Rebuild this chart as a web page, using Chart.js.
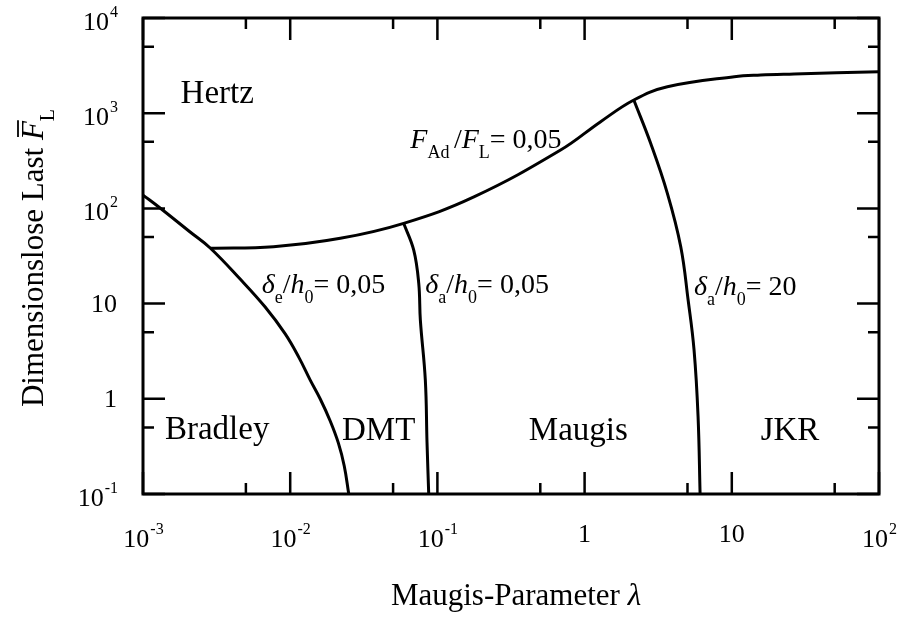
<!DOCTYPE html>
<html>
<head>
<meta charset="utf-8">
<script src="https://cdn.jsdelivr.net/npm/chart.js@4.4.1/dist/chart.umd.min.js"></script>
<style>
  body { margin: 0; background: #fff; }
  canvas { display: block; }
</style>
</head>
<body>
<canvas id="chart" width="902" height="618"></canvas>
<script>
// Grenzlinien der Kontaktmodelle (Maugis-Parameter lambda gegen dimensionslose Last)
const fadX = [0.00286, 0.0077, 0.0219, 0.059, 0.177, 0.687, 1.285, 2.16, 3.65, 10.4, 15.7, 26.5, 100]
const fadY = [38.1, 39.6, 48.5, 69.7, 132, 410, 815, 1377, 1898, 2420, 2519, 2582, 2730]

const deltaEX = [0.001, 0.001306, 0.00209, 0.00286, 0.00457, 0.00676, 0.00925, 0.0115, 0.01368, 0.016, 0.0187, 0.02123, 0.02329, 0.025]
const deltaEY = [138, 101, 56.5, 38.4, 18.1, 9.2, 4.8, 2.69, 1.57, 0.995, 0.585, 0.344, 0.197, 0.1]

const deltaA1X = [0.059, 0.069, 0.0747, 0.0766, 0.0828, 0.085, 0.0873]
const deltaA1Y = [69.7, 36.6, 16.3, 6.72, 1.57, 0.35, 0.1]

const deltaA2X = [2.16, 2.81, 3.65, 4.5, 5.05, 5.54, 5.9, 6.09]
const deltaA2Y = [1377, 483, 144, 39.6, 10.9, 3.26, 0.649, 0.1]

const xMajor = [0.001, 0.01, 0.1, 1, 10, 100]
const xMinor = [0.005, 0.05, 0.5, 5, 50]
const xLabels = [['10', '-3'], ['10', '-2'], ['10', '-1'], ['1', ''], ['10', ''], ['10', '2']]

const yMajor = [0.1, 1, 10, 100, 1000, 10000]
const yMinor = [0.5, 5, 50, 500, 5000]
const yLabels = [['10', '-1'], ['1', ''], ['10', ''], ['10', '2'], ['10', '3'], ['10', '4']]

const FONT = '"Liberation Serif", "Times New Roman", serif'

// Beschriftungen im Diagramm: Position in Datenkoordinaten (linke Kante, Grundlinie)
const notes = [
  { x: 0.0018, y: 1280, size: 33, parts: [{ t: 'Hertz' }] },
  { x: 0.00141, y: 0.374, size: 33, parts: [{ t: 'Bradley' }] },
  { x: 0.0225, y: 0.369, size: 33, parts: [{ t: 'DMT' }] },
  { x: 0.418, y: 0.369, size: 33, parts: [{ t: 'Maugis' }] },
  { x: 15.7, y: 0.369, size: 33, parts: [{ t: 'JKR' }] },
  { x: 0.0655, y: 431, size: 28, parts: [{ t: 'F', it: 1 }, { t: 'Ad ', sub: 1 }, { t: '/' }, { t: 'F', it: 1 }, { t: 'L', sub: 1 }, { t: '= 0,05' }] },
  { x: 0.00641, y: 12.9, size: 28, parts: [{ t: 'δ', it: 1 }, { t: 'e', sub: 1 }, { t: '/' }, { t: 'h', it: 1 }, { t: '0', sub: 1 }, { t: '= 0,05' }] },
  { x: 0.0828, y: 12.9, size: 28, parts: [{ t: 'δ', it: 1 }, { t: 'a', sub: 1 }, { t: '/' }, { t: 'h', it: 1 }, { t: '0', sub: 1 }, { t: '= 0,05' }] },
  { x: 5.54, y: 12.3, size: 28, parts: [{ t: 'δ', it: 1 }, { t: 'a', sub: 1 }, { t: '/' }, { t: 'h', it: 1 }, { t: '0', sub: 1 }, { t: '= 20' }] }
]

function toPoints(xs, ys) {
  return xs.map((x, i) => ({ x: x, y: ys[i] }))
}

function setFont(ctx, size, italic) {
  ctx.font = (italic ? 'italic ' : '') + size + 'px ' + FONT
}

// Text mit Kursiv- und Index-Teilen nacheinander zeichnen, gibt die Breite zurück
function drawRich(ctx, x, y, parts, size, measureOnly) {
  let cx = x
  for (const p of parts) {
    const s = p.sub ? Math.round(size * 0.64) : size
    setFont(ctx, s, p.it)
    const dy = p.sub ? size * 0.36 : 0
    if (!measureOnly) ctx.fillText(p.t, cx, y + dy)
    cx += ctx.measureText(p.t).width
  }
  return cx - x
}

// Zahl mit Exponent (z.B. 10^-3)
function drawPow(ctx, x, y, base, exp, align) {
  setFont(ctx, 26)
  const wb = ctx.measureText(base).width
  setFont(ctx, 16)
  const we = exp ? ctx.measureText(exp).width : 0
  const w = wb + we
  let left = x
  if (align === 'center') left = x - w / 2
  if (align === 'right') left = x - w
  setFont(ctx, 26)
  ctx.fillText(base, left, y)
  if (exp) {
    setFont(ctx, 16)
    ctx.fillText(exp, left + wb + 1, y - 13)
  }
}

const axesPlugin = {
  id: 'axesPlugin',
  afterDraw(chart) {
    const ctx = chart.ctx
    const a = chart.chartArea
    const xs = chart.scales.x
    const ys = chart.scales.y
    ctx.save()
    ctx.strokeStyle = '#000'
    ctx.fillStyle = '#000'
    ctx.lineCap = 'butt'

    // Rahmen
    ctx.lineWidth = 3
    ctx.strokeRect(a.left, a.top, a.right - a.left, a.bottom - a.top)

    // Striche nach innen, auf allen vier Seiten
    ctx.lineWidth = 2.5
    ctx.beginPath()
    const tickX = (vals, len) => {
      vals.forEach(v => {
        const px = xs.getPixelForValue(v)
        ctx.moveTo(px, a.bottom); ctx.lineTo(px, a.bottom - len)
        ctx.moveTo(px, a.top); ctx.lineTo(px, a.top + len)
      })
    }
    const tickY = (vals, len) => {
      vals.forEach(v => {
        const py = ys.getPixelForValue(v)
        ctx.moveTo(a.left, py); ctx.lineTo(a.left + len, py)
        ctx.moveTo(a.right, py); ctx.lineTo(a.right - len, py)
      })
    }
    tickX(xMajor, 22); tickX(xMinor, 11)
    tickY(yMajor, 22); tickY(yMinor, 11)
    ctx.stroke()

    // Achsenbeschriftung
    ctx.textBaseline = 'alphabetic'
    ctx.textAlign = 'left'
    xMajor.forEach((v, i) => {
      const px = xs.getPixelForValue(v)
      const lb = xLabels[i]
      drawPow(ctx, px, lb[1] ? a.bottom + 53 : a.bottom + 48, lb[0], lb[1], 'center')
    })
    yMajor.forEach((v, i) => {
      const py = ys.getPixelForValue(v)
      const lb = yLabels[i]
      drawPow(ctx, a.left - 26, lb[1] ? py + 11.5 : py + 8.5, lb[0], lb[1], 'right')
    })

    // x-Achsentitel
    setFont(ctx, 31)
    const t1 = 'Maugis-Parameter '
    const w1 = ctx.measureText(t1).width
    setFont(ctx, 31, true)
    const w2 = ctx.measureText('λ').width
    const x0 = 516 - (w1 + w2) / 2
    setFont(ctx, 31)
    ctx.fillText(t1, x0, 605)
    setFont(ctx, 31, true)
    ctx.fillText('λ', x0 + w1, 605)

    // y-Achsentitel, gedreht
    ctx.save()
    ctx.translate(43, 258)
    ctx.rotate(-Math.PI / 2)
    const yt = [{ t: 'Dimensionslose Last ' }, { t: 'F', it: 1 }, { t: 'L', sub: 1 }]
    const wt = drawRich(ctx, 0, 0, yt, 31, true)
    const sx = -wt / 2
    drawRich(ctx, sx, 0, yt, 31)
    setFont(ctx, 31)
    const wa = ctx.measureText('Dimensionslose Last ').width
    setFont(ctx, 31, true)
    const wf = ctx.measureText('F').width
    ctx.lineWidth = 1.8
    ctx.beginPath()
    ctx.moveTo(sx + wa + 3, -25)
    ctx.lineTo(sx + wa + wf + 1, -25)
    ctx.stroke()
    ctx.restore()

    // Beschriftungen im Diagramm
    notes.forEach(n => {
      drawRich(ctx, xs.getPixelForValue(n.x), ys.getPixelForValue(n.y), n.parts, n.size)
    })
    ctx.restore()
  }
}

const line = (xs, ys) => ({
  data: toPoints(xs, ys),
  borderColor: '#000',
  borderWidth: 3,
  pointRadius: 0,
  tension: 0.4,
  fill: false
})

new Chart(document.getElementById('chart'), {
  type: 'line',
  data: {
    datasets: [
      line(fadX, fadY),
      line(deltaEX, deltaEY),
      line(deltaA1X, deltaA1Y),
      line(deltaA2X, deltaA2Y)
    ]
  },
  options: {
    responsive: false,
    animation: false,
    devicePixelRatio: 1,
    layout: { padding: { left: 143, top: 18, right: 23, bottom: 124 } },
    plugins: { legend: { display: false }, tooltip: { enabled: false } },
    scales: {
      x: { type: 'logarithmic', min: 0.001, max: 100, display: false },
      y: { type: 'logarithmic', min: 0.1, max: 10000, display: false }
    }
  },
  plugins: [axesPlugin]
})
</script>
</body>
</html>
